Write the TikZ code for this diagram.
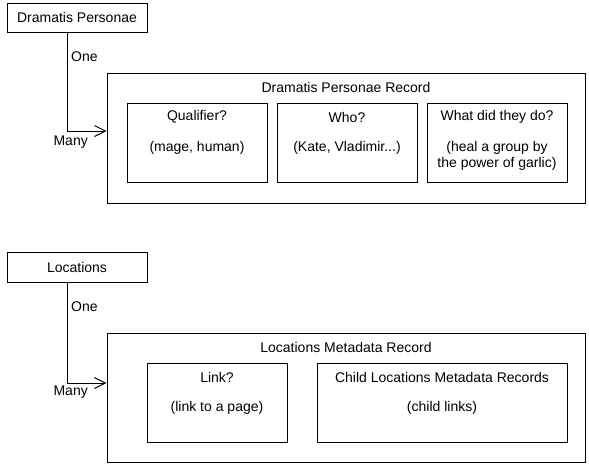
\documentclass[tikz,border=0pt]{standalone}
\usepackage{fontspec}
\setmainfont{Liberation Sans}
\usetikzlibrary{arrows.meta}
\begin{document}
\begin{tikzpicture}[x=1pt,y=-1pt,
  box/.style={draw=black,line width=1pt,rectangle,inner sep=0pt},
  txt/.style={inner sep=0pt,font=\fontsize{14}{16}\selectfont,align=center},
  conn/.style={draw=black,line width=1pt,-{Straight Barb[length=11pt,width=11pt,line width=1pt]}}]
\useasboundingbox[fill=white] (0,0) rectangle (589,464);
% ---- top group
\node[box,minimum width=140,minimum height=29] (dp) at (77,17.5) {};
\node[txt] (dpt) at (77,17.5) {Dramatis Personae};
\node[box,minimum width=478,minimum height=130] (dpr) at (346,138) {};
\node[txt] (dprt) at (346,87) {Dramatis Personae Record};
\node[box,minimum width=140,minimum height=79] (q) at (197,142.5) {};
\node[txt] (qt) at (197,117) {Qualifier?};
\node[txt] (qs) at (197,148) {(mage, human)};
\node[box,minimum width=140,minimum height=79] (w) at (347,142.5) {};
\node[txt] (wt) at (347,117) {Who?};
\node[txt] (ws) at (347,148) {(Kate, Vladimir...)};
\node[box,minimum width=140,minimum height=79] (wd) at (497,142.5) {};
\node[txt] (wdt) at (497,117) {What did they do?};
\node[txt] (wds) at (497,156) {(heal a group by\\the power of garlic)};
\coordinate (c1) at (67,131);
\draw[conn] ([xshift=-10pt]dp.south) |- (dpr.west |- c1);
\node[txt,anchor=west] (one1) at (71,57) {One};
\node[txt,anchor=east] (many1) at (88,142) {Many};
% ---- bottom group
\node[box,minimum width=140,minimum height=30] (loc) at (77,267) {};
\node[txt] (loct) at (77,267) {Locations};
\node[box,minimum width=478,minimum height=129] (lmr) at (346,397.5) {};
\node[txt] (lmrt) at (346,347) {Locations Metadata Record};
\node[box,minimum width=140,minimum height=79] (lk) at (217,402.5) {};
\node[txt] (lkt) at (217,377) {Link?};
\node[txt] (lks) at (217,408) {(link to a page)};
\node[box,minimum width=250,minimum height=79] (ch) at (442,402.5) {};
\node[txt] (cht) at (442,377) {Child Locations Metadata Records};
\node[txt] (chs) at (442,408) {(child links)};
\coordinate (c2) at (67,383);
\draw[conn] ([xshift=-10pt]loc.south) |- (lmr.west |- c2);
\node[txt,anchor=west] (one2) at (71,307) {One};
\node[txt,anchor=east] (many2) at (88,392) {Many};
\end{tikzpicture}
\end{document}
